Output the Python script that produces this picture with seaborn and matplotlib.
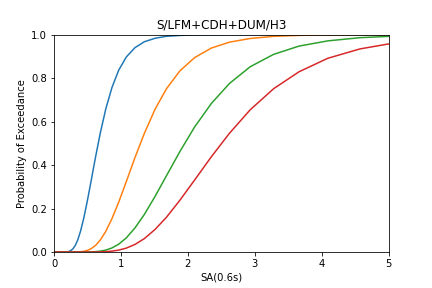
import numpy as np
import pandas as pd
import matplotlib
matplotlib.use("Agg")
import matplotlib.pyplot as plt
import seaborn as sns

# SA grid (g) shared by all four damage states
sa = [0.01, 0.1, 0.164, 0.204, 0.228, 0.255, 0.285, 0.318, 0.356, 0.398,
      0.444, 0.496, 0.555, 0.62, 0.692, 0.774, 0.865, 0.966, 1.08, 1.21,
      1.35, 1.51, 1.68, 1.88, 2.10, 2.35, 2.62, 2.93, 3.28, 3.66,
      4.09, 4.57, 5.11]

ds1 = [0.0, 0.0, 0.0002, 0.0013, 0.0032, 0.0074, 0.0157, 0.0305, 0.0567, 0.0975,
       0.155, 0.232, 0.328, 0.436, 0.548, 0.659, 0.756, 0.836, 0.897, 0.940,
       0.967, 0.983, 0.992, 0.996, 0.9985, 0.9994, 0.9998, 1.0, 1.0, 1.0,
       1.0, 1.0, 1.0]
ds2 = [0.0, 0.0, 0.0, 0.0, 0.0, 0.0, 0.0001, 0.0002, 0.0005, 0.0013,
       0.0031, 0.0071, 0.0153, 0.0302, 0.0552, 0.0953, 0.153, 0.229, 0.324, 0.435,
       0.546, 0.657, 0.751, 0.833, 0.894, 0.938, 0.965, 0.982, 0.9917, 0.9962,
       0.9985, 0.9994, 0.9998]
ds3 = [0.0, 0.0, 0.0, 0.0, 0.0, 0.0, 0.0, 0.0, 0.0, 0.0,
       0.0001, 0.0002, 0.0006, 0.0017, 0.0040, 0.0089, 0.0186, 0.0359, 0.0649, 0.111,
       0.173, 0.256, 0.351, 0.462, 0.575, 0.683, 0.775, 0.852, 0.909, 0.947,
       0.971, 0.9856, 0.9932]
ds4 = [0.0, 0.0, 0.0, 0.0, 0.0, 0.0, 0.0, 0.0, 0.0, 0.0,
       0.0, 0.0, 0.0001, 0.0002, 0.0007, 0.0017, 0.0040, 0.0087, 0.0179, 0.0349,
       0.0617, 0.104, 0.160, 0.238, 0.331, 0.438, 0.546, 0.654, 0.751, 0.829,
       0.891, 0.934, 0.963]

states = ["DS1", "DS2", "DS3", "DS4"]
df = pd.concat([
    pd.DataFrame({"sa": sa, "poe": vals, "ds": name})
    for name, vals in zip(states, [ds1, ds2, ds3, ds4])
])

fig, ax = plt.subplots(figsize=(6, 4), dpi=72)
fig.subplots_adjust(left=0.125, right=0.9, top=0.88, bottom=0.125)

sns.lineplot(data=df, x="sa", y="poe", hue="ds", palette="tab10",
             legend=False, ax=ax, linewidth=1.5)

ax.set_xlim(0, 5)
ax.set_ylim(0, 1)
ax.set_title("S/LFM+CDH+DUM/H3")
ax.set_xlabel("SA(0.6s)")
ax.set_ylabel("Probability of Exceedance")

fig.savefig("out.png", dpi=72)
